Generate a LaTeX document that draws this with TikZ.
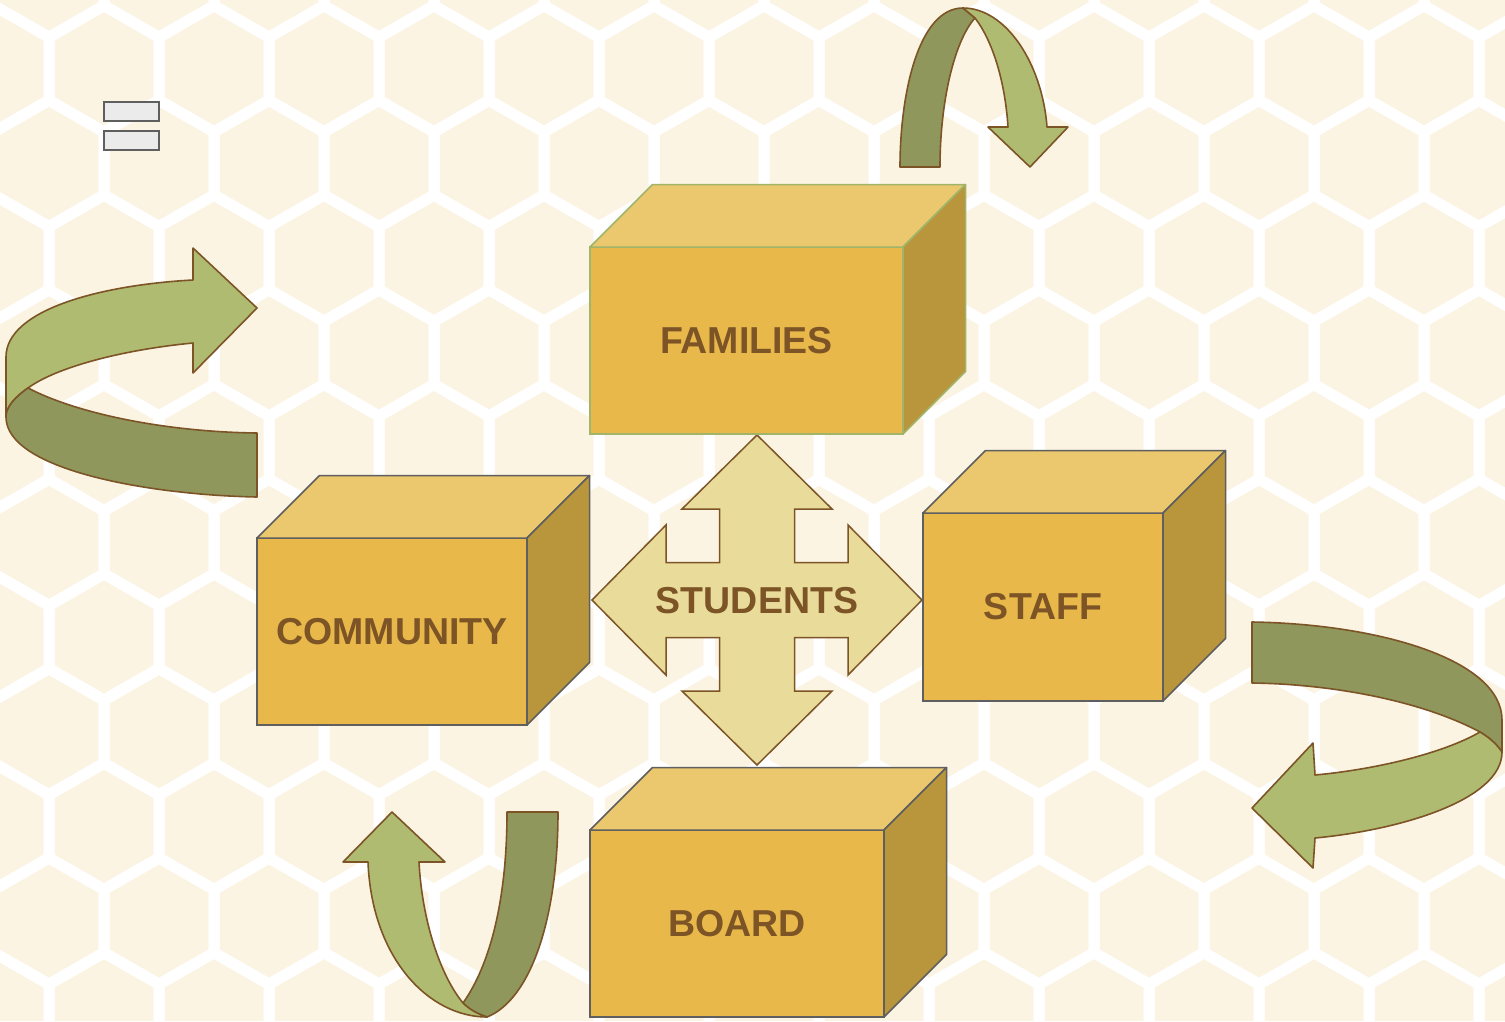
\documentclass[tikz,border=0pt]{standalone}
\usepackage{fontspec}
\setmainfont{Liberation Sans}
\usetikzlibrary{calc}
\definecolor{bgcream}{HTML}{FCF4E3}
\definecolor{boxfront}{HTML}{E8B84A}
\definecolor{boxtop}{HTML}{EBC76E}
\definecolor{boxside}{HTML}{B9953B}
\definecolor{boxgray}{HTML}{5F5F5F}
\definecolor{boxgreen}{HTML}{A0B46A}
\definecolor{textbrown}{HTML}{7C5426}
\definecolor{quadfill}{HTML}{E9DC9B}
\definecolor{lightgreen}{HTML}{B0BB72}
\definecolor{darkgreen}{HTML}{8F975C}
\definecolor{smallgray}{HTML}{EBEBEB}
\tikzset{
  hexline/.style={draw=white, line width=11pt, line join=miter},
  frontface/.style={line width=1.5pt, fill=boxfront, text=textbrown,
    font=\fontsize{37.5}{37.5}\selectfont\bfseries, inner sep=0pt, outer sep=0pt},
  topface/.style={line width=1.5pt, fill=boxtop, line join=round},
  sideface/.style={line width=1.5pt, fill=boxside, line join=round},
  quadarrow/.style={draw=textbrown, line width=1.5pt, fill=quadfill, line join=miter},
  ribbonlight/.style={draw=textbrown, line width=1.6pt, fill=lightgreen, line join=round},
  ribbondark/.style={draw=textbrown, line width=1.6pt, fill=darkgreen, line join=round},
  smallbox/.style={draw=boxgray, line width=2pt, fill=smallgray, inner sep=0pt, outer sep=0pt,
    minimum width=55pt, minimum height=19pt},
  centerlabel/.style={text=textbrown, font=\fontsize{37.5}{37.5}\selectfont\bfseries, inner sep=0pt}
}
\newcommand{\mycube}[7]{%
  \pgfmathsetmacro{\cw}{#4-#2}\pgfmathsetmacro{\ch}{#5-#3}%
  \node[frontface, draw=#7, minimum width=\cw pt, minimum height=\ch pt] (#1) at ({(#2+#4)/2},{(#3+#5)/2}) {#6};
  \draw[topface, draw=#7] (#1.north west) -- ++(62.5,-62.5) -- ($(#1.north east)+(62.5,-62.5)$) -- (#1.north east) -- cycle;
  \draw[sideface, draw=#7] (#1.north east) -- ++(62.5,-62.5) -- ($(#1.south east)+(62.5,-62.5)$) -- (#1.south east) -- cycle;
}
\begin{document}
\begin{tikzpicture}[x=1pt,y=-1pt]
\useasboundingbox (0,0) rectangle (1505,1021);
\fill[bgcream] (0,0) rectangle (1505,1021);
% honeycomb background
\begin{scope}
\clip (0,0) rectangle (1505,1021);
\foreach \j in {-1,...,11} {
  \foreach \k in {-1,...,14} {
    \pgfmathsetmacro{\cx}{104 + 110*\k - 55*mod(abs(\j),2)}
    \pgfmathsetmacro{\cy}{68.8 + 94.7*\j}
    \draw[hexline] (\cx,\cy-63.1) -- (\cx+55,\cy-31.55) -- (\cx+55,\cy+31.55) -- (\cx,\cy+63.1) -- (\cx-55,\cy+31.55) -- (\cx-55,\cy-31.55) -- cycle;
  }
}
\end{scope}

% small rectangles top-left
\node[smallbox] (sb1) at (131.5,111.5) {};
\node[smallbox] (sb2) at (131.5,140.5) {};

% four-way arrow
\coordinate (qc) at (757,600);
\draw[quadarrow] (qc) ++(0,-165) -- ++(75,74) -- ++(-37.5,0) -- ++(0,53.5) -- ++(53.5,0) -- ++(0,-37.5)
  -- ++(74,75) -- ++(-74,75) -- ++(0,-37.5) -- ++(-53.5,0) -- ++(0,53.5) -- ++(37.5,0)
  -- ++(-75,74) -- ++(-75,-74) -- ++(37.5,0) -- ++(0,-53.5) -- ++(-53.5,0) -- ++(0,37.5)
  -- ++(-74,-75) -- ++(74,-75) -- ++(0,37.5) -- ++(53.5,0) -- ++(0,-53.5) -- ++(-37.5,0) -- cycle;
\node[centerlabel] (students) at (757,601) {STUDENTS};

% boxes
\mycube{families}{590}{247}{903}{434}{FAMILIES}{boxgreen}
\mycube{staff}{923}{513}{1163}{701}{STAFF}{boxgray}
\mycube{community}{257}{538}{527}{725}{COMMUNITY}{boxgray}
\mycube{board}{590}{830}{884}{1017}{BOARD}{boxgray}

% top ribbon arrow
\draw[ribbondark] (900,167) .. controls (900,95) and (918,8) .. (963,8)
  -- (975,18) .. controls (955,40) and (940,100) .. (940,167) -- cycle;
\draw[ribbonlight] (963,8) .. controls (1005,8) and (1042,62) .. (1047,127)
  -- (1068,127) -- (1030,167) -- (988,127) -- (1008,127)
  .. controls (1005,80) and (992,40) .. (975,18) -- cycle;

% left ribbon arrow
\draw[ribbonlight] (193,280) -- (193,248) -- (257,308) -- (193,373) -- (193,343)
  .. controls (120,350) and (55,368) .. (28,388)
  .. controls (15,397) and (6,407) .. (6,417) -- (6,357)
  .. controls (6,310) and (100,285) .. (193,280) -- cycle;
\draw[ribbondark] (28,388) .. controls (80,415) and (170,432) .. (257,433) -- (257,497)
  .. controls (150,495) and (6,470) .. (6,417)
  .. controls (6,407) and (15,397) .. (28,388) -- cycle;

% right ribbon arrow
\draw[ribbondark] (1252,622) .. controls (1380,624) and (1502,660) .. (1502,720) -- (1502,752)
  .. controls (1495,742) and (1488,737) .. (1480,732)
  .. controls (1420,700) and (1330,684) .. (1252,683) -- cycle;
\draw[ribbonlight] (1480,732) .. controls (1440,755) and (1370,770) .. (1315,775)
  -- (1313,743) -- (1252,808) -- (1313,868) -- (1315,838)
  .. controls (1400,830) and (1502,800) .. (1502,752)
  .. controls (1495,742) and (1488,737) .. (1480,732) -- cycle;

% bottom ribbon arrow
\draw[ribbondark] (507,812) -- (558,812) .. controls (558,920) and (530,1000) .. (487,1017)
  .. controls (478,1014) and (470,1010) .. (463,1003)
  .. controls (490,965) and (507,900) .. (507,812) -- cycle;
\draw[ribbonlight] (463,1003) .. controls (440,975) and (422,920) .. (419,862)
  -- (445,862) -- (392,812) -- (343,862) -- (368,862)
  .. controls (372,960) and (430,1017) .. (487,1017)
  .. controls (478,1014) and (470,1010) .. (463,1003) -- cycle;
\end{tikzpicture}
\end{document}
